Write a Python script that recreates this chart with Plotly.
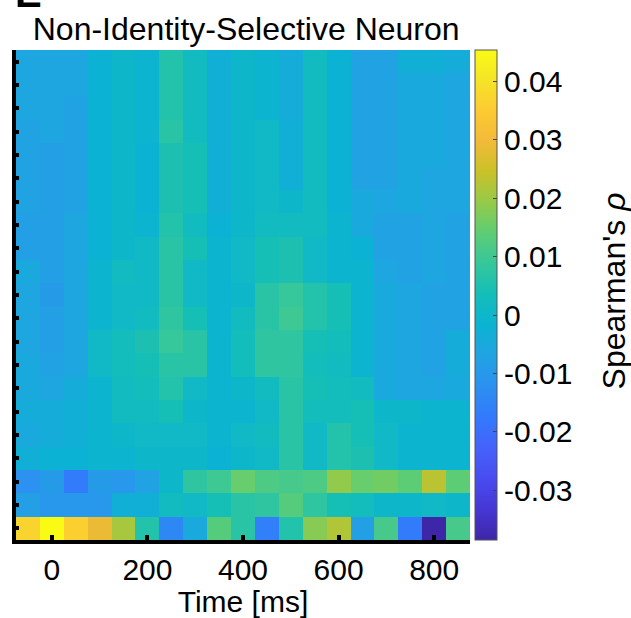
import plotly.graph_objects as go

# ---- data ----
time_ms = [-50, 0, 50, 100, 150, 200, 250, 300, 350, 400, 450, 500, 550, 600, 650, 700, 750, 800, 850]
row_ids = list(range(1, 22))  # top row = 1

rho_rows = [
    [-0.006, -0.006, -0.006, -0.002, 0.000, -0.001, 0.006, 0.002, -0.003, 0.000, -0.001, -0.004, 0.002, -0.002, -0.007, -0.007, -0.003, -0.003, -0.004],
    [-0.006, -0.006, -0.006, -0.002, 0.000, -0.001, 0.006, 0.002, -0.003, 0.000, -0.001, -0.004, 0.002, -0.002, -0.007, -0.007, -0.005, -0.005, -0.006],
    [-0.006, -0.006, -0.007, -0.002, 0.000, -0.001, 0.006, 0.002, -0.003, 0.000, -0.001, -0.004, 0.002, -0.002, -0.007, -0.007, -0.005, -0.005, -0.006],
    [-0.007, -0.006, -0.007, -0.002, 0.000, -0.001, 0.007, 0.002, -0.003, 0.000, 0.001, -0.003, 0.002, -0.002, -0.007, -0.007, -0.005, -0.005, -0.006],
    [-0.007, -0.008, -0.007, -0.002, 0.000, -0.002, 0.005, 0.004, -0.003, 0.000, 0.001, -0.003, 0.002, -0.002, -0.007, -0.007, -0.005, -0.005, -0.006],
    [-0.007, -0.008, -0.007, -0.002, 0.000, -0.002, 0.005, 0.004, -0.003, 0.000, 0.001, -0.003, 0.002, -0.002, -0.007, -0.007, -0.005, -0.006, -0.006],
    [-0.007, -0.008, -0.007, -0.002, 0.000, -0.002, 0.005, 0.004, -0.003, 0.000, 0.001, 0.000, 0.002, -0.002, -0.005, -0.006, -0.005, -0.006, -0.006],
    [-0.008, -0.008, -0.006, -0.002, 0.000, -0.001, 0.006, 0.002, -0.002, 0.000, 0.002, 0.002, 0.002, -0.001, -0.005, -0.007, -0.007, -0.006, -0.007],
    [-0.008, -0.008, -0.006, -0.002, 0.000, 0.001, 0.007, 0.004, -0.001, 0.001, 0.004, 0.005, 0.001, -0.001, -0.002, -0.007, -0.007, -0.006, -0.007],
    [-0.005, -0.008, -0.006, -0.001, 0.002, 0.001, 0.007, 0.001, -0.001, 0.001, 0.004, 0.005, 0.001, -0.001, -0.001, -0.006, -0.007, -0.006, -0.007],
    [-0.006, -0.009, -0.006, -0.001, 0.001, 0.001, 0.007, 0.001, -0.001, 0.000, 0.007, 0.009, 0.006, 0.004, -0.001, -0.005, -0.006, -0.007, -0.007],
    [-0.006, -0.008, -0.006, -0.001, 0.001, 0.002, 0.008, 0.004, -0.001, 0.002, 0.007, 0.010, 0.006, 0.004, -0.001, -0.005, -0.006, -0.007, -0.007],
    [-0.006, -0.008, -0.006, 0.001, 0.003, 0.005, 0.009, 0.007, -0.001, 0.003, 0.008, 0.008, 0.004, 0.003, -0.001, -0.005, -0.006, -0.007, -0.004],
    [-0.005, -0.007, -0.006, 0.001, 0.003, 0.004, 0.007, 0.007, -0.001, 0.003, 0.008, 0.008, 0.003, 0.002, -0.001, -0.005, -0.006, -0.007, -0.004],
    [-0.005, -0.006, -0.004, -0.001, 0.002, 0.003, 0.006, 0.001, -0.001, 0.000, 0.002, 0.007, 0.004, 0.003, 0.002, -0.005, -0.006, -0.006, -0.005],
    [-0.004, -0.004, -0.003, -0.001, 0.002, 0.002, 0.004, 0.000, -0.001, -0.001, 0.001, 0.007, 0.003, 0.003, 0.004, 0.000, 0.000, -0.001, -0.001],
    [-0.005, -0.004, -0.003, -0.001, 0.000, 0.001, 0.001, 0.001, -0.001, 0.001, 0.002, 0.007, 0.001, 0.006, 0.004, 0.001, -0.001, -0.001, -0.001],
    [-0.003, -0.002, -0.002, -0.001, -0.001, 0.000, 0.000, 0.000, -0.002, 0.000, 0.001, 0.007, 0.001, 0.006, 0.005, 0.001, -0.001, -0.001, -0.001],
    [-0.012, -0.009, -0.017, -0.009, -0.010, -0.007, 0.000, 0.008, 0.010, 0.015, 0.012, 0.011, 0.012, 0.019, 0.015, 0.016, 0.014, 0.023, 0.014],
    [-0.008, -0.010, -0.010, -0.010, -0.003, -0.003, 0.002, 0.001, 0.004, 0.007, 0.008, 0.013, 0.008, 0.004, 0.003, 0.000, 0.000, 0.001, 0.000],
    [0.037, 0.0454, 0.036, 0.029, 0.021, 0.006, -0.014, -0.005, 0.013, 0.007, -0.016, 0.006, 0.018, 0.022, -0.008, 0.011, -0.017, -0.0385, 0.011],
]

x_tick_vals = [0, 200, 400, 600, 800]
x_tick_text = ["0", "200", "400", "600", "800"]
cb_tick_vals = [-0.03, -0.02, -0.01, 0, 0.01, 0.02, 0.03, 0.04]
cb_tick_text = ["-0.03", "-0.02", "-0.01", "0", "0.01", "0.02", "0.03", "0.04"]

# MATLAB parula (sampled)
parula_rgb = [
    (0.2422, 0.1504, 0.6603), (0.2704, 0.2138, 0.8346), (0.2813, 0.2985, 0.9397),
    (0.2710, 0.3860, 0.9898), (0.2006, 0.4803, 0.9906), (0.1716, 0.5655, 0.9393),
    (0.1288, 0.6408, 0.8910), (0.0433, 0.7039, 0.8242), (0.0770, 0.7468, 0.7224),
    (0.2061, 0.7808, 0.6065), (0.3671, 0.8021, 0.4563), (0.5886, 0.7913, 0.2833),
    (0.7945, 0.7554, 0.1570), (0.9523, 0.7284, 0.2237), (0.9938, 0.7974, 0.1974),
    (0.9601, 0.8963, 0.1507), (0.9769, 0.9839, 0.0805),
]
idx = [0, 16, 32, 48, 64, 80, 96, 112, 128, 144, 160, 176, 192, 208, 224, 240, 255]
parula = [[i / 255, "rgb(%d,%d,%d)" % tuple(round(c * 255) for c in rgb)] for i, rgb in zip(idx, parula_rgb)]

FONT = "Liberation Sans, Arial, Helvetica, sans-serif"

fig = go.Figure(
    go.Heatmap(
        z=rho_rows,
        x=time_ms,
        y=row_ids,
        colorscale=parula,
        colorbar=dict(
            x=1.01, xanchor="left", xpad=0,
            y=0.5, yanchor="middle", ypad=0,
            len=1.0, lenmode="fraction",
            thickness=22,
            outlinecolor="#555555", outlinewidth=1,
            tickvals=cb_tick_vals, ticktext=cb_tick_text,
            ticks="inside", ticklen=4, tickwidth=1, tickcolor="#444444",
            tickfont=dict(family=FONT, size=30, color="black"),
        ),
    )
)

fig.update_layout(
    width=631, height=618,
    margin=dict(l=16, r=161, t=50, b=78, autoexpand=False),
    paper_bgcolor="white", plot_bgcolor="white",
    font=dict(family=FONT, size=30, color="black"),
    title=dict(text="Non-Identity-Selective Neuron", x=0.507, xanchor="center", xref="paper",
               y=0.954, yanchor="middle", yref="container",
               font=dict(family=FONT, size=32, color="black")),
    annotations=[
        dict(text="<b>E</b>", xref="paper", yref="paper", x=-0.006, y=1.068,
             xanchor="left", yanchor="bottom", showarrow=False,
             font=dict(family=FONT, size=40, color="black")),
        dict(text="Spearman's <i>ρ</i>", xref="paper", yref="paper", x=1.318, y=0.508,
             xanchor="center", yanchor="middle", textangle=-90, showarrow=False,
             font=dict(family=FONT, size=32, color="black")),
    ],
)

fig.update_xaxes(
    range=[-75, 875], tickvals=x_tick_vals, ticktext=x_tick_text,
    ticks="inside", ticklen=5, tickwidth=4, tickcolor="black",
    showline=True, linewidth=4, linecolor="black", mirror=False,
    showgrid=False, zeroline=False,
    tickfont=dict(family=FONT, size=30, color="black"),
    title=dict(text="Time [ms]", font=dict(family=FONT, size=30, color="black"), standoff=0),
)
fig.update_yaxes(
    range=[21.5, 0.5], tickvals=row_ids, showticklabels=False,
    ticks="inside", ticklen=3, tickwidth=4, tickcolor="black",
    showline=True, linewidth=4, linecolor="black", mirror=False,
    showgrid=False, zeroline=False,
)

fig.write_html("out.html", config={"displayModeBar": False},
               post_script="document.body.style.margin='0';document.body.style.overflow='hidden';")
